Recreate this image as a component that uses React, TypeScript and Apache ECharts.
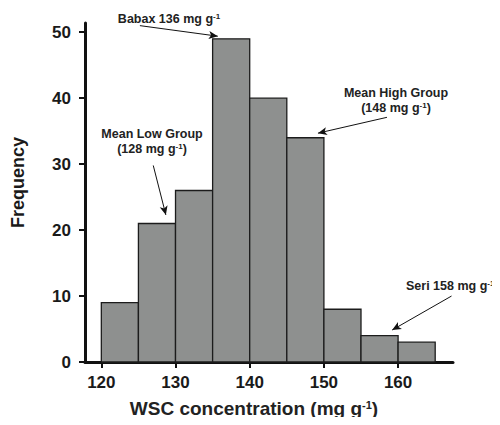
import React, { useEffect, useRef } from "react";
import * as echarts from "echarts";

const binStarts = [120, 125, 130, 135, 140, 145, 150, 155, 160];
const binEnds = [125, 130, 135, 140, 145, 150, 155, 160, 165];
const frequencies = [9, 21, 26, 49, 40, 34, 8, 4, 3];
const xTickValues = [120, 130, 140, 150, 160];
const yTickValues = [0, 10, 20, 30, 40, 50];

// arrows: [fromX, fromY, toX, toY] in data units
const arrowBabax = [125.2, 51.0, 135.7, 49.4];
const arrowLow = [127.0, 29.8, 128.7, 22.3];
const arrowHigh = [158.5, 37.1, 149.2, 34.7];
const arrowSeri = [167.2, 10.0, 159.2, 4.85];

const FONT = "Liberation Sans, Arial, Helvetica, sans-serif";

function arrowData(a: number[]) {
  return [{ coord: [a[0], a[1]] }, { coord: [a[2], a[3]] }];
}

function supText(main: string, after = "") {
  return `{a|${main}}{s|-1}{a|${after}}`;
}

export default function App() {
  const ref = useRef<HTMLDivElement>(null);
  useEffect(() => {
    if (!ref.current) return;
    const chart = echarts.init(ref.current, null, { renderer: "svg" });
    const data = binStarts.map((s, i) => [s, binEnds[i], frequencies[i]]);
    const annRich = (size: number) => ({
      a: { fontFamily: FONT, fontWeight: "bold", fontSize: size, fill: "#222", color: "#222" },
      s: { fontFamily: FONT, fontWeight: "bold", fontSize: Math.round(size * 0.6), verticalAlign: "top", fill: "#222", color: "#222" },
    });
    const ann = (x: number, y: number, text: string, align = "center") => ({
      type: "text",
      x,
      y,
      style: { text, rich: annRich(12.5), align, verticalAlign: "middle" },
    });
    chart.setOption({
      animation: false,
      backgroundColor: "#ffffff",
      grid: { left: 85, right: 47, top: 23, bottom: 63 },
      xAxis: {
        type: "value",
        min: 117.8,
        max: 167.4,
        splitLine: { show: false },
        axisLine: { show: true, lineStyle: { color: "#111", width: 3 } },
        axisTick: { show: true, customValues: xTickValues, length: 6, lineStyle: { color: "#111", width: 2 } },
        axisLabel: {
          customValues: xTickValues,
          margin: 12,
          fontFamily: FONT,
          fontWeight: "bold",
          fontSize: 17,
          color: "#1a1a1a",
        },
        name: supText("WSC concentration (mg g", ")"),
        nameLocation: "middle",
        nameGap: 37,
        nameTextStyle: {
          padding: [0, 30, 0, 0],
          rich: annRich(19),
        },
      },
      yAxis: {
        type: "value",
        min: 0,
        max: 51.4,
        splitLine: { show: false },
        axisLine: { show: true, lineStyle: { color: "#111", width: 3 } },
        axisTick: { show: true, customValues: yTickValues, length: 6, lineStyle: { color: "#111", width: 2 } },
        axisLabel: {
          customValues: yTickValues,
          margin: 14,
          fontFamily: FONT,
          fontWeight: "bold",
          fontSize: 17,
          color: "#1a1a1a",
        },
        name: "Frequency",
        nameLocation: "middle",
        nameGap: 58,
        nameTextStyle: {
          fontFamily: FONT,
          fontWeight: "bold",
          fontSize: 18,
          color: "#1a1a1a",
          padding: [0, 0, 0, 20],
        },
      },
      series: [
        {
          type: "custom",
          clip: false,
          data,
          encode: { x: [0, 1], y: 2 },
          renderItem: (params: any, api: any) => {
            const s = api.coord([api.value(0), 0]);
            const e = api.coord([api.value(1), api.value(2)]);
            return {
              type: "rect",
              shape: { x: s[0], y: e[1], width: e[0] - s[0], height: s[1] - e[1] },
              style: { fill: "#8e908f", stroke: "#1c1c1c", lineWidth: 1.3 },
            };
          },
          markLine: {
            silent: true,
            symbol: ["none", "arrow"],
            symbolSize: [6, 9],
            label: { show: false },
            lineStyle: { color: "#111", width: 1, type: "solid" },
            data: [arrowData(arrowBabax), arrowData(arrowLow), arrowData(arrowHigh), arrowData(arrowSeri)],
          },
        },
      ],
      graphic: [
        ann(169, 19, supText("Babax 136 mg g")),
        ann(152, 134, "{a|Mean Low Group}"),
        ann(152, 149, supText("(128 mg g", ")")),
        ann(396, 93, "{a|Mean High Group}"),
        ann(396, 108, supText("(148 mg g", ")")),
        ann(406, 286, supText("Seri 158 mg g"), "left"),
      ],
    });
    return () => chart.dispose();
  }, []);
  return <div ref={ref} style={{ width: 500, height: 425, margin: -8 }} />;
}
